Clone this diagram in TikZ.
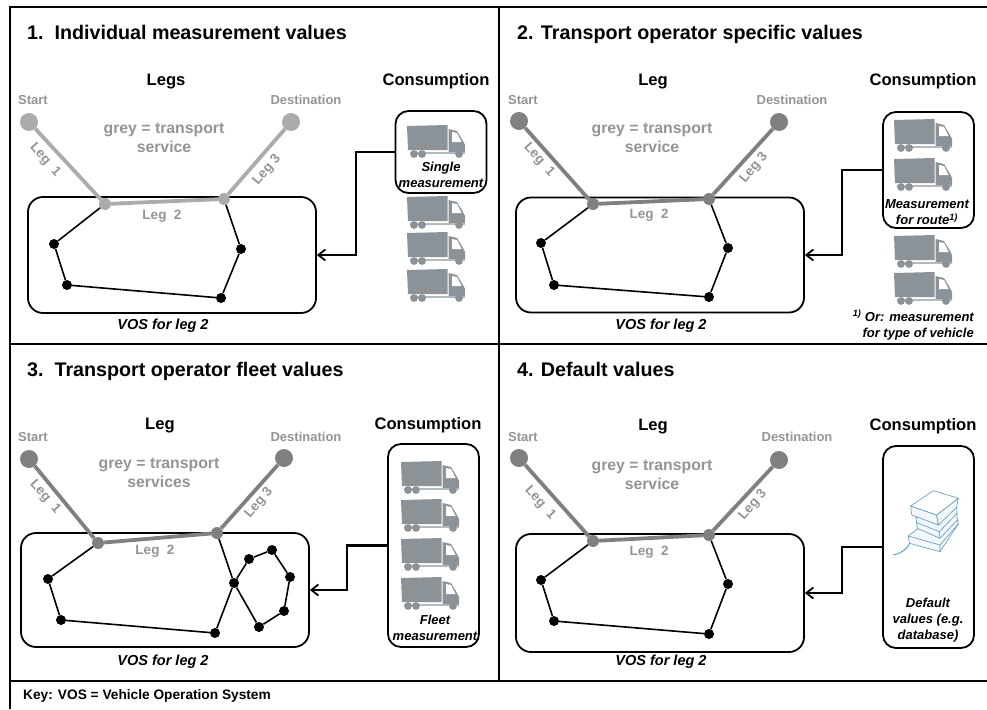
\documentclass[tikz,border=0pt]{standalone}
\usepackage{fontspec}
\setmainfont{Liberation Sans}
\usetikzlibrary{arrows.meta}
\definecolor{lightleg}{HTML}{ABABAB}
\definecolor{darkleg}{HTML}{808080}
\definecolor{greytxt}{HTML}{949494}
\definecolor{truckc}{HTML}{8B9399}
\definecolor{bookc}{HTML}{5A97C0}
\definecolor{bookf}{HTML}{F2F7FB}
\newcommand{\fs}[1]{\fontsize{#1}{#1}\selectfont\bfseries}
\tikzset{
  x=1pt,y=-1pt,
  frame/.style={line width=2.4pt,black},
  title/.style={anchor=base west,inner sep=0,font=\fs{19.7}},
  head/.style={inner sep=0,font=\fs{16.6},yshift=-1.5pt},
  place/.style={inner sep=0,font=\fs{13},text=greytxt},
  greynote/.style={inner sep=0,font=\fs{15.8},text=greytxt,align=center},
  leglab/.style={inner sep=0,font=\fs{13.5},text=greytxt},
  voslab/.style={inner sep=0,font=\fs{14.5}\itshape},
  conslab/.style={inner sep=0,font=\fs{13}\itshape,align=center},
  keylab/.style={anchor=west,inner sep=0,font=\fs{13.7}},
  vosbox/.style={draw,line width=1.8pt,rounded corners=15pt,minimum width=288pt,inner sep=0},
  consbox/.style={draw,line width=1.8pt,rounded corners=13pt,minimum width=91pt,inner sep=0},
  stopdot/.style={circle,fill=black,inner sep=0,minimum size=10pt},
  endlight/.style={circle,fill=lightleg,inner sep=0,minimum size=18pt},
  enddark/.style={circle,fill=darkleg,inner sep=0,minimum size=18pt},
  joinlight/.style={circle,fill=lightleg,inner sep=0,minimum size=12pt},
  joindark/.style={circle,fill=darkleg,inner sep=0,minimum size=12pt},
  route/.style={line width=1.6pt,black},
  leglight/.style={line width=3.8pt,lightleg},
  legdark/.style={line width=3.8pt,darkleg},
  feed/.style={line width=2.2pt,black,-{Straight Barb[length=7pt,width=11pt,line width=1.8pt]}},
  bookline/.style={draw=bookc,line width=.6pt,fill=bookf,line join=round},
}
\newcommand{\truck}[2]{%
  \begin{scope}[shift={(#1,#2)}]
    \fill[truckc] (0,1) -- (40.5,0) -- (40.5,25) -- (1,25) -- cycle;
    \fill[truckc] (41.5,4) -- (50,6) -- (56,16) -- (58,20) -- (58,27) -- (41.5,27) -- cycle;
    \fill[white] (45,7) -- (50,8) -- (54.5,17) -- (45,17) -- cycle;
    \fill[truckc!65!white] (3,26.5) rectangle (58,28.5);
    \fill[truckc] (7,29) circle (3.9) (15,29) circle (3.9) (52,29) circle (3.9);
  \end{scope}}
\newcommand{\books}{%
  \begin{scope}[shift={(840,430)},scale=.3333]
    \draw[draw=bookc,line width=.9pt] (160,375) .. controls (185,370) and (215,350) .. (212,320);
    % bottom book
    \draw[bookline] (205,318) -- (235,295) -- (352,270) -- (355,282) -- (300,365) -- (208,340) -- cycle;
    \draw[bookline,fill=none] (205,318) -- (300,345) -- (355,282) (300,345) -- (300,365);
    % middle book
    \draw[bookline] (228,262) -- (290,255) -- (350,232) -- (352,270) -- (300,325) -- (232,295) -- cycle;
    \draw[bookline,fill=none] (230,278) -- (298,305) -- (351,250) (298,305) -- (300,325);
    % top book
    \draw[bookline] (212,228) -- (215,255) -- (295,285) -- (290,255) -- cycle;
    \draw[bookline] (290,255) -- (295,285) -- (350,232) -- (355,205) -- cycle;
    \draw[bookline,fill=white] (212,228) -- (280,182) -- (355,205) -- (290,255) -- cycle;
  \end{scope}}
\begin{document}
\begin{tikzpicture}
\useasboundingbox (0,0) rectangle (987,709);
% frame
\draw[frame] (10,709) -- (10,7) -- (987,7);
\draw[frame] (499,7) -- (499,681);
\draw[frame] (10,344) -- (987,344);
\draw[frame] (10,681) -- (987,681);
% ---------- panel 1
\node[title] (t1) at (27,40) {1.\ \ Individual measurement values};
\node[head] (h1a) at (166,80) {Legs};
\node[head] (h1b) at (436,80) {Consumption};
\node[place] (s1l) at (33,100) {Start};
\node[place] (d1l) at (306,100) {Destination};
\node[greynote] (g1) at (164,138) {grey = transport\\[3pt]service};
\node[vosbox,minimum height=116pt] (v1) at (172,255) {};
\node[stopdot] (a1) at (54,244) {};
\node[stopdot] (b1) at (67,285) {};
\node[stopdot] (c1) at (221,298) {};
\node[stopdot] (e1) at (241,249) {};
\node[endlight] (s1) at (29,122) {};
\node[endlight] (d1) at (291,122) {};
\node[joinlight] (j1) at (105,204) {};
\node[joinlight] (k1) at (224,199) {};
\draw[route] (j1) -- (a1) -- (b1) -- (c1) -- (e1) -- (k1);
\draw[leglight] (s1) -- (j1) -- (k1) -- (d1);
\node[leglab,rotate=-48] (l11) at (45,160) {Leg\ \ 1};
\node[leglab] (l12) at (162,216) {Leg\ \ 2};
\node[leglab,rotate=50] (l13) at (267,170) {Leg 3};
\node[voslab] (vt1) at (163,326) {VOS for leg 2};
\node[consbox,minimum height=82pt] (c1b) at (441,152) {};
\truck{407}{125}\truck{407}{196}\truck{407}{232}\truck{407}{269}
\node[conslab] (ct1) at (441,175) {Single\\[3pt]measurement};
\draw[feed] (c1b.west) -- ++(-39,0) |- (v1.east);
% ---------- panel 2
\node[title] (t2) at (517,40) {2. Transport operator specific values};
\node[head] (h2a) at (653,80) {Leg};
\node[head] (h2b) at (923,80) {Consumption};
\node[place] (s2l) at (523,100) {Start};
\node[place] (d2l) at (792,100) {Destination};
\node[greynote] (g2) at (652,138) {grey = transport\\[3pt]service};
\node[vosbox,minimum height=115pt] (v2) at (660,255) {};
\node[stopdot] (a2) at (541,243) {};
\node[stopdot] (b2) at (554,285) {};
\node[stopdot] (c2) at (709,297) {};
\node[stopdot] (e2) at (728,248) {};
\node[enddark] (s2) at (519,121) {};
\node[enddark] (d2) at (779,122) {};
\node[joindark] (j2) at (593,204) {};
\node[joindark] (k2) at (709,199) {};
\draw[route] (j2) -- (a2) -- (b2) -- (c2) -- (e2) -- (k2);
\draw[legdark] (s2) -- (j2) -- (k2) -- (d2);
\node[leglab,rotate=-48] (l21) at (539,160) {Leg\ \ 1};
\node[leglab] (l22) at (649,215) {Leg\ \ 2};
\node[leglab,rotate=50] (l23) at (754,168) {Leg 3};
\node[voslab] (vt2) at (661,326) {VOS for leg 2};
\node[consbox,minimum height=116pt] (c2b) at (928.5,170) {};
\truck{894}{119}\truck{894}{158}\truck{894}{235}\truck{894}{272}
\node[conslab] (ct2) at (927,212) {Measurement\\[3pt]for route\textsuperscript{1)}};
\node[conslab,align=right,anchor=east] (n2) at (974,325) {\textsuperscript{1)} Or: measurement\\[3pt]for type of vehicle};
\draw[feed] (c2b.west) -- ++(-40,0) |- (v2.east);
% ---------- panel 3
\node[title] (t3) at (27,376) {3.\ \ Transport operator fleet values};
\node[head] (h3a) at (160,424) {Leg};
\node[head] (h3b) at (428,424) {Consumption};
\node[place] (s3l) at (33,437) {Start};
\node[place] (d3l) at (306,437) {Destination};
\node[greynote] (g3) at (159,473) {grey = transport\\[3pt]services};
\node[vosbox,minimum height=114pt] (v3) at (165,590) {};
\node[stopdot] (a3) at (48,579) {};
\node[stopdot] (b3) at (61,620) {};
\node[stopdot] (c3) at (215,633) {};
\node[stopdot] (e3) at (234,583) {};
\node[stopdot] (f3) at (249,559) {};
\node[stopdot] (g3d) at (272,550) {};
\node[stopdot] (h3) at (290,577) {};
\node[stopdot] (i3) at (284,611) {};
\node[stopdot] (m3) at (259,627) {};
\node[enddark] (s3) at (29,459) {};
\node[enddark] (d3) at (284,458) {};
\node[joindark] (j3) at (98,543) {};
\node[joindark] (k3) at (217,533) {};
\draw[route] (j3) -- (a3) -- (b3) -- (c3) -- (e3) -- (k3);
\draw[route] (e3) -- (f3) -- (g3d) -- (h3) -- (i3) -- (m3) -- (e3);
\draw[legdark] (s3) -- (j3) -- (k3) -- (d3);
\node[leglab,rotate=-48] (l31) at (45,497) {Leg\ \ 1};
\node[leglab] (l32) at (155,551) {Leg\ \ 2};
\node[leglab,rotate=50] (l33) at (259,503) {Leg 3};
\node[voslab] (vt3) at (163,662) {VOS for leg 2};
\node[consbox,minimum height=203pt] (c3b) at (433.5,545.5) {};
\truck{401}{461}\truck{401}{499}\truck{401}{538}\truck{401}{577}
\node[conslab] (ct3) at (435,628) {Fleet\\[3pt]measurement};
\draw[feed] (c3b.west) -- ++(-40,0) |- (v3.east);
% ---------- panel 4
\node[title] (t4) at (517,376) {4. Default values};
\node[head] (h4a) at (653,425) {Leg};
\node[head] (h4b) at (923,425) {Consumption};
\node[place] (s4l) at (523,437) {Start};
\node[place] (d4l) at (797,437) {Destination};
\node[greynote] (g4) at (652,475) {grey = transport\\[3pt]service};
\node[vosbox,minimum height=118pt] (v4) at (660,593) {};
\node[stopdot] (a4) at (541,580) {};
\node[stopdot] (b4) at (554,621) {};
\node[stopdot] (c4) at (709,634) {};
\node[stopdot] (e4) at (728,584) {};
\node[enddark] (s4) at (519,458) {};
\node[enddark] (d4) at (779,460) {};
\node[joindark] (j4) at (593,541) {};
\node[joindark] (k4) at (709,535) {};
\draw[route] (j4) -- (a4) -- (b4) -- (c4) -- (e4) -- (k4);
\draw[legdark] (s4) -- (j4) -- (k4) -- (d4);
\node[leglab,rotate=-48] (l41) at (540,503) {Leg\ \ 1};
\node[leglab] (l42) at (649,552) {Leg\ \ 2};
\node[leglab,rotate=50] (l43) at (753,505) {Leg 3};
\node[voslab] (vt4) at (661,662) {VOS for leg 2};
\node[consbox,minimum height=202pt] (c4b) at (928.5,547) {};
\books
\node[conslab] (ct4) at (928,620) {Default\\[3pt]values (e.g.\\[3pt]database)};
\draw[feed] (c4b.west) -- ++(-40,0) |- (v4.east);
% key
\node[keylab] (key) at (23,696) {Key: VOS = Vehicle Operation System};
\end{tikzpicture}
\end{document}
